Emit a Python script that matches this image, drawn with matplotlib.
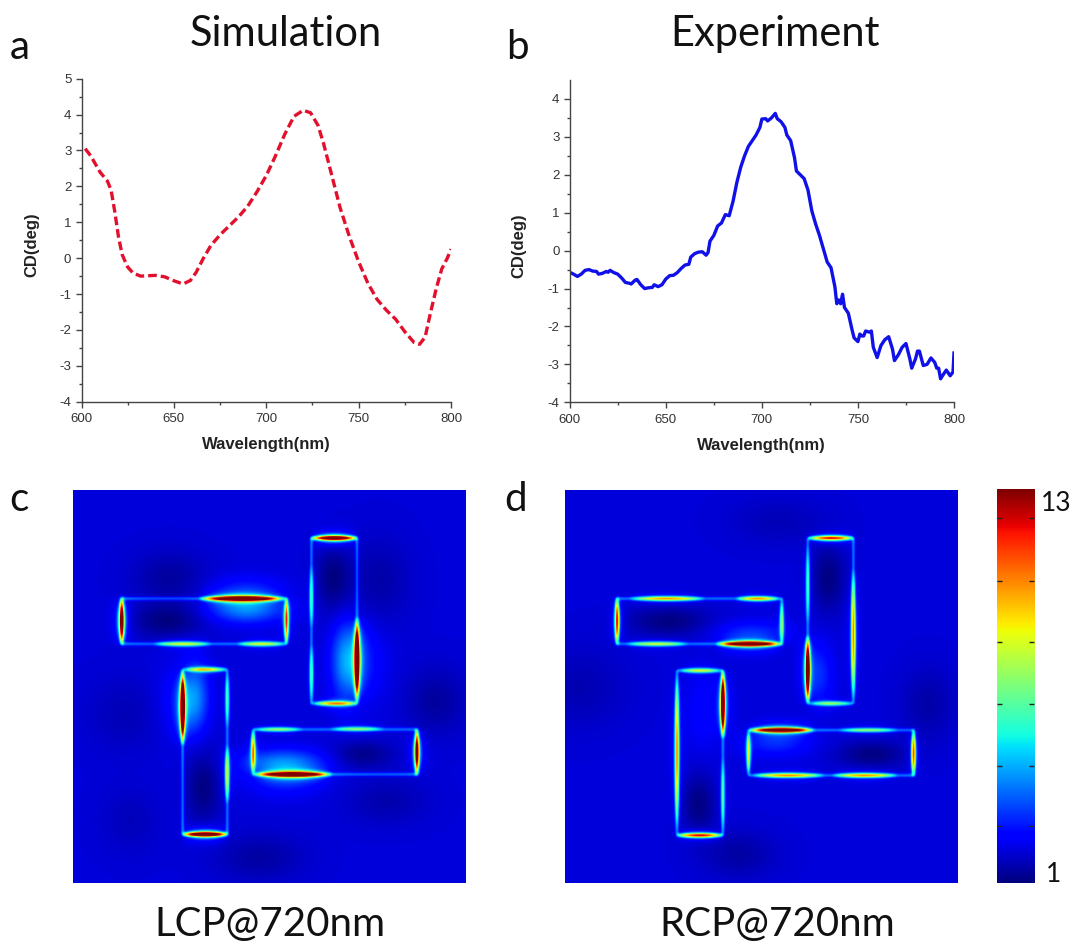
import numpy as np
import matplotlib
matplotlib.use("Agg")
import matplotlib.pyplot as plt

W, H = 1076, 943

# curves
sim_x = [602, 605, 610, 614, 616, 618, 620, 622, 625, 628, 632, 640, 645, 650, 655, 659, 662, 666, 670,
         675, 680, 685, 690, 695, 700, 705, 710, 715, 720, 724, 728, 731, 735, 740, 745, 750, 755, 760,
         765, 770, 775, 780, 783, 786, 789, 792, 795, 798, 800]
sim_y = [3.05, 2.85, 2.4, 2.15, 1.9, 1.3, 0.6, 0.1, -0.25, -0.42, -0.5, -0.48, -0.52, -0.63, -0.72, -0.62,
         -0.4, 0, 0.35, 0.65, 0.9, 1.15, 1.45, 1.85, 2.3, 2.85, 3.45, 3.95, 4.12, 4.05, 3.7, 3.2, 2.4, 1.4,
         0.6, -0.1, -0.7, -1.15, -1.45, -1.7, -2.05, -2.35, -2.4, -2.2, -1.5, -0.85, -0.3, 0, 0.25]

exp_x = [600, 602, 604, 606, 608, 610, 612, 614, 615, 617, 619, 620, 621, 623, 625, 627, 629, 631, 632,
         634, 635, 637, 639, 641, 643, 644, 646, 648, 650, 652, 654, 656, 658, 660, 662, 663, 665, 667,
         669, 671, 672, 673, 675, 677, 679, 681, 683, 685, 687, 689, 691, 693, 695, 697, 699, 700, 702,
         703, 705, 707, 708, 710, 712, 713, 715, 717, 718, 720, 722, 724, 726, 728, 730, 732, 734, 736,
         738, 739, 740, 741, 742, 743, 745, 747, 748, 750, 751, 752, 753, 754, 756, 757, 758, 760, 762,
         764, 766, 768, 769, 771, 773, 775, 777, 778, 780, 781, 782, 784, 786, 788, 790, 791, 792, 793,
         794, 796, 798, 799.5, 800]
exp_y = [-0.57, -0.62, -0.68, -0.62, -0.52, -0.5, -0.54, -0.55, -0.62, -0.6, -0.55, -0.57, -0.52, -0.58,
         -0.62, -0.72, -0.84, -0.86, -0.88, -0.78, -0.76, -0.9, -1.0, -0.98, -0.97, -0.9, -0.95, -0.9,
         -0.75, -0.66, -0.65, -0.58, -0.47, -0.38, -0.36, -0.17, -0.08, -0.04, -0.03, -0.12, -0.05, 0.25,
         0.4, 0.65, 0.73, 0.95, 0.92, 1.3, 1.8, 2.2, 2.5, 2.75, 2.9, 3.05, 3.25, 3.47, 3.48, 3.42, 3.5,
         3.62, 3.48, 3.4, 3.25, 3.05, 2.9, 2.45, 2.1, 2.0, 1.9, 1.6, 1.05, 0.7, 0.4, 0.05, -0.3, -0.45,
         -0.95, -1.4, -1.3, -1.4, -1.15, -1.5, -1.65, -2.1, -2.3, -2.4, -2.2, -2.25, -2.25, -2.12, -2.15,
         -2.12, -2.55, -2.82, -2.5, -2.35, -2.27, -2.6, -2.9, -2.75, -2.55, -2.45, -2.85, -3.1, -2.85,
         -2.65, -2.65, -3.03, -3.0, -2.83, -2.95, -3.1, -3.1, -3.38, -3.3, -3.15, -3.3, -3.2, -2.7]

# field maps: rods as (x0, y0, x1, y1), bright edges as (x0, y0, x1, y1, peak, width),
# blobs as (x, y, rx, ry, amp)
lcp_rods = [(155, 342, 650, 478), (725, 160, 862, 657), (338, 555, 472, 1050), (550, 735, 1042, 870)]
lcp_edges = [
    (155, 332, 155, 485, 13, 9), (385, 342, 648, 342, 15, 9),
    (250, 478, 425, 478, 6, 5), (500, 478, 650, 478, 6, 5), (650, 335, 650, 482, 9, 4),
    (720, 160, 868, 160, 14, 8), (725, 240, 725, 430, 4, 3), (725, 480, 725, 655, 4, 3),
    (862, 395, 862, 655, 15, 9), (728, 657, 868, 657, 8, 5),
    (338, 555, 338, 785, 15, 8), (345, 555, 472, 555, 7, 4),
    (472, 560, 472, 730, 4, 3), (472, 780, 472, 960, 6, 4), (332, 1050, 480, 1050, 15, 8),
    (552, 870, 790, 870, 15, 9), (550, 735, 700, 735, 5, 4),
    (780, 733, 945, 733, 5, 4), (550, 735, 550, 868, 8, 4), (1042, 728, 1042, 878, 12, 7),
]
lcp_blobs = [
    (300, 280, 110, 80, -0.6), (930, 290, 90, 130, -0.5), (1100, 650, 90, 100, -0.6),
    (170, 690, 120, 110, -0.35), (950, 950, 120, 70, -0.45), (570, 1120, 130, 70, -0.55),
    (180, 1010, 90, 100, -0.3), (290, 410, 110, 50, -0.9), (790, 280, 50, 100, -0.9),
    (400, 910, 50, 110, -0.9), (880, 810, 90, 40, -0.8), (530, 375, 110, 40, 2.0),
    (825, 530, 40, 110, 2.0), (375, 640, 40, 100, 2.0), (640, 835, 120, 40, 2.0),
    (880, 530, 70, 120, 0.7), (320, 650, 70, 110, 0.5), (640, 890, 110, 50, 0.7), (530, 310, 110, 40, 0.7),
]
rcp_rods = [(165, 342, 660, 478), (738, 160, 875, 657), (345, 558, 483, 1053), (560, 737, 1056, 873)]
rcp_edges = [
    (165, 333, 165, 485, 10, 5), (200, 342, 430, 342, 8, 4), (520, 342, 655, 342, 8, 4),
    (190, 478, 380, 478, 6, 4), (460, 478, 665, 478, 15, 8),
    (660, 345, 660, 482, 5, 3), (735, 160, 882, 160, 10, 6), (738, 180, 738, 420, 4, 3),
    (738, 450, 738, 660, 15, 6), (875, 250, 875, 650, 8, 4),
    (745, 657, 875, 657, 5, 4), (350, 558, 480, 558, 6, 4), (345, 565, 345, 1040, 8, 4),
    (483, 553, 483, 765, 15, 6), (483, 820, 483, 1050, 4, 3), (340, 1053, 488, 1053, 10, 6),
    (558, 737, 760, 737, 15, 7), (830, 737, 1010, 737, 5, 3), (570, 873, 790, 873, 8, 4),
    (810, 873, 1010, 873, 8, 4), (560, 740, 560, 870, 6, 3), (1056, 733, 1056, 880, 9, 4),
]
rcp_blobs = [
    (50, 610, 140, 120, -0.4), (530, 1110, 110, 70, -0.55), (1100, 660, 80, 110, -0.5),
    (650, 110, 140, 70, -0.35), (320, 410, 120, 45, -0.9), (800, 280, 50, 100, -0.9),
    (410, 960, 50, 90, -0.9), (930, 810, 100, 40, -0.9), (570, 445, 110, 35, 1.0),
    (775, 570, 40, 90, 1.0), (420, 680, 50, 120, 0.5), (640, 775, 100, 40, 1.0),
]

cbar_ticks = [2.73, 4.57, 6.46, 8.36, 10.22, 12.12]


def px_axes(fig, left, top, right, bottom):
    return fig.add_axes([left / W, 1 - bottom / H, (right - left) / W, (bottom - top) / H])


def soften(field):
    # the reference is a blurry screenshot, so smooth the sharp lines a bit
    kernel = np.array([1, 4, 6, 4, 1]) / 16
    pad = np.pad(field, 2, mode="edge")
    for axis in [0, 1]:
        pad = np.apply_along_axis(lambda r: np.convolve(r, kernel, mode="same"), axis, pad)
    return pad[2:-2, 2:-2]


def make_field(rods, edges, blobs):
    xs = np.linspace(10, 1188, 393)
    ys = np.linspace(14, 1195, 393)
    gx, gy = np.meshgrid(xs, ys)
    field = np.full(gx.shape, 1.95)
    for x, y, rx, ry, amp in blobs:
        field += amp * np.exp(-((gx - x) / rx) ** 2 - ((gy - y) / ry) ** 2)
    # thin line around each rod
    for x0, y0, x1, y1 in rods:
        inx = (gx > x0) & (gx < x1)
        iny = (gy > y0) & (gy < y1)
        field += 3.0 * inx * (np.exp(-((gy - y0) / 3.5) ** 2) + np.exp(-((gy - y1) / 3.5) ** 2))
        field += 3.0 * iny * (np.exp(-((gx - x0) / 3.5) ** 2) + np.exp(-((gx - x1) / 3.5) ** 2))
    for x0, y0, x1, y1, peak, width in edges:
        if y0 == y1:
            along, across, a0, a1, c = gx, gy, x0, x1, y0
        else:
            along, across, a0, a1, c = gy, gx, y0, y1, x0
        t = np.clip((along - (a0 + a1) / 2) / ((a1 - a0) / 2), -1, 1)
        lens = 1 - t ** 2
        half = 3.5 + 0.35 * width * lens
        field += 1.15 * (peak - 1) * lens * np.exp(-(np.abs(across - c) / half) ** 1.4)
        # soft halo
        field += 0.14 * (peak - 1) * lens * np.exp(-(np.abs(across - c) / (6 + 1.6 * width)) ** 1.2)
    return soften(field)


def draw_curve(ax, x, y, ylim, color, ls, lw):
    ax.plot(x, y, color=color, lw=lw, ls=ls)
    ax.set_xlim(600, 800)
    ax.set_ylim(*ylim)
    ax.set_xticks([600, 650, 700, 750, 800])
    ax.set_xticks([625, 675, 725, 775], minor=True)
    ax.set_yticks(range(-4, int(ylim[1]) + 1))
    ax.set_yticks(np.arange(-3.5, ylim[1], 1), minor=True)
    for side in ["top", "right"]:
        ax.spines[side].set_visible(False)
    for side in ["left", "bottom"]:
        ax.spines[side].set_linewidth(1.0)
        ax.spines[side].set_color("#444444")
    ax.tick_params(which="major", length=4.3, width=1, color="#444444", labelsize=9.5, labelcolor="#333333")
    ax.tick_params(axis="x", which="major", pad=4)
    ax.tick_params(axis="y", which="major", pad=3)
    ax.tick_params(which="minor", length=2.2, width=1, color="#444444")
    ax.set_xlabel("Wavelength(nm)", fontsize=12, fontweight="bold", color="#222222")
    ax.set_ylabel("CD(deg)", fontsize=12, fontweight="bold", color="#222222")
    ax.xaxis.set_label_coords(0.5, -0.11)
    ax.yaxis.set_label_coords(-0.113, 0.485)


plt.rcParams["font.family"] = ["Liberation Sans", "DejaVu Sans"]
plt.rcParams["axes.unicode_minus"] = False
fig = plt.figure(figsize=(W / 100, H / 100), dpi=100)

ax_a = px_axes(fig, 81.5, 78.7, 451, 401.7)
draw_curve(ax_a, sim_x, sim_y, (-4, 5), "#e2102c", (0, (2.6, 1.2)), 2.4)
ax_b = px_axes(fig, 569.7, 80, 954, 402.3)
draw_curve(ax_b, exp_x, exp_y, (-4, 4.5), "#1010e8", "-", 2.4)

for field_args, box in [
    ((lcp_rods, lcp_edges, lcp_blobs), (73.3, 489.7, 466, 883)),
    ((rcp_rods, rcp_edges, rcp_blobs), (565.3, 489.7, 958, 883)),
]:
    ax = px_axes(fig, *box)
    ax.imshow(make_field(*field_args), cmap="jet", vmin=1, vmax=13, interpolation="bilinear", aspect="auto")
    ax.axis("off")

ax_cb = px_axes(fig, 996.7, 489.3, 1034, 883)
ax_cb.imshow(np.linspace(13, 1, 394).reshape(-1, 1), cmap="jet", vmin=1, vmax=13, aspect="auto", extent=(0, 1, 1, 13))
ax_cb.set_xticks([])
ax_cb.set_yticks(cbar_ticks)
ax_cb.tick_params(axis="y", direction="in", length=3.5, width=1, color="#222222", left=True, right=True, labelleft=False)
for sp in ax_cb.spines.values():
    sp.set_visible(False)

labels = [
    ("Simulation", 285.5, 46, 30), ("Experiment", 775.5, 46, 30),
    ("a", 20, 59, 29), ("b", 517, 59, 29), ("c", 19, 511, 29), ("d", 516, 511, 29),
    ("13", 1056, 511, 19), ("1", 1054, 882, 19),
    ("LCP@720nm", 270, 936, 29), ("RCP@720nm", 777, 936, 29),
]
for txt, x, y, size in labels:
    fig.text(x / W, 1 - y / H, txt, ha="center", va="baseline", fontsize=size, color="#111111", family=["Lato", "DejaVu Sans"])

fig.savefig("out.png", dpi=100)
